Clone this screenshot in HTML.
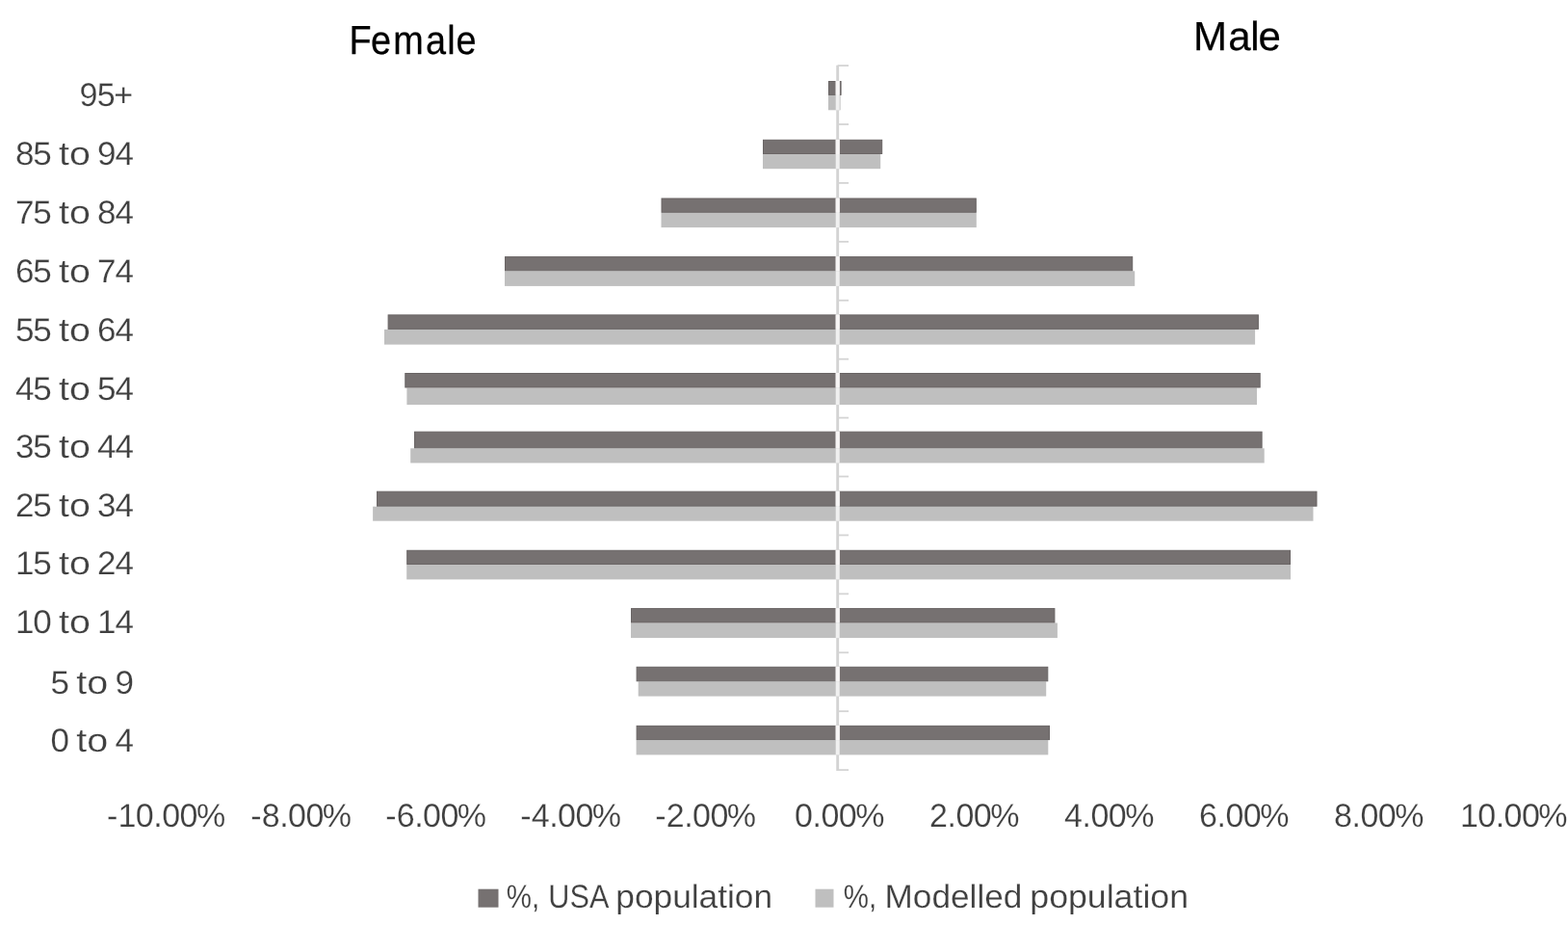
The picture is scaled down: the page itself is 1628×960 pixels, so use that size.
<!DOCTYPE html>
<html lang="en">
<head>
<meta charset="utf-8">
<title>Population pyramid: USA vs modelled population</title>
<style>
html,body{margin:0;padding:0;background:#fff;}
body{width:1628px;height:960px;overflow:hidden;}
svg{display:block;}
text{font-family:"Liberation Sans",sans-serif;text-rendering:geometricPrecision;}
.cat,.xl,.lg{font-size:34px;fill:#404040;stroke:#fff;stroke-width:0.20px;}
.ttl{font-size:42px;fill:#000;stroke:#000;stroke-width:0.25px;}
</style>
</head>
<body>
<svg width="1628" height="960" viewBox="0 0 1628 960">
<rect x="0" y="0" width="1628" height="960" fill="#ffffff"/>
<g>
<text class="ttl" x="402.68 427.86 453.66 491.20 515.94 526.14" y="0" transform="matrix(0.9000 0 0 1.0000 0 56.00)">Female</text>
<text class="ttl" x="1239.11 1275.30 1298.22 1306.46" y="0" transform="matrix(1.0000 0 0 1.0000 0 52.00)">Male</text>
</g>
<g>
<rect x="860.0" y="98.9" width="12.6" height="15.4" fill="#bfbfbf"/>
<rect x="860.5" y="84.5" width="12.6" height="13.9" fill="#767171" stroke="#6a6565" stroke-width="1"/>
<rect x="792.0" y="160.0" width="122.2" height="15.2" fill="#bfbfbf"/>
<rect x="792.5" y="145.3" width="123.2" height="14.2" fill="#767171" stroke="#6a6565" stroke-width="1"/>
<rect x="686.5" y="220.8" width="327.3" height="15.3" fill="#bfbfbf"/>
<rect x="687.0" y="206.0" width="326.3" height="14.3" fill="#767171" stroke="#6a6565" stroke-width="1"/>
<rect x="524.0" y="281.3" width="654.2" height="15.6" fill="#bfbfbf"/>
<rect x="524.5" y="266.6" width="651.2" height="14.2" fill="#767171" stroke="#6a6565" stroke-width="1"/>
<rect x="399.0" y="341.9" width="904.1" height="15.7" fill="#bfbfbf"/>
<rect x="403.1" y="326.9" width="903.3" height="14.5" fill="#767171" stroke="#6a6565" stroke-width="1"/>
<rect x="422.4" y="402.5" width="882.6" height="17.6" fill="#bfbfbf"/>
<rect x="420.8" y="387.5" width="887.4" height="14.5" fill="#767171" stroke="#6a6565" stroke-width="1"/>
<rect x="426.2" y="465.3" width="886.5" height="15.2" fill="#bfbfbf"/>
<rect x="430.5" y="448.2" width="879.6" height="16.6" fill="#767171" stroke="#6a6565" stroke-width="1"/>
<rect x="387.1" y="525.7" width="976.4" height="15.0" fill="#bfbfbf"/>
<rect x="391.5" y="510.2" width="975.5" height="15.0" fill="#767171" stroke="#6a6565" stroke-width="1"/>
<rect x="422.2" y="586.0" width="917.8" height="15.4" fill="#bfbfbf"/>
<rect x="422.7" y="571.3" width="916.8" height="14.2" fill="#767171" stroke="#6a6565" stroke-width="1"/>
<rect x="655.0" y="646.5" width="442.9" height="15.6" fill="#bfbfbf"/>
<rect x="655.5" y="631.6" width="439.4" height="14.4" fill="#767171" stroke="#6a6565" stroke-width="1"/>
<rect x="662.7" y="707.3" width="423.5" height="15.3" fill="#bfbfbf"/>
<rect x="661.1" y="692.3" width="426.7" height="14.5" fill="#767171" stroke="#6a6565" stroke-width="1"/>
<rect x="660.6" y="768.1" width="427.7" height="15.3" fill="#bfbfbf"/>
<rect x="661.1" y="753.4" width="428.4" height="14.2" fill="#767171" stroke="#6a6565" stroke-width="1"/>
</g>
<g>
<line x1="869.7" y1="67.7" x2="869.7" y2="800.1" stroke="#d3d3d3" stroke-width="2.9"/>
<line x1="869.7" y1="68.10" x2="881.1" y2="68.10" stroke="#d4d4d4" stroke-width="1.8"/>
<line x1="869.7" y1="129.02" x2="881.1" y2="129.02" stroke="#d4d4d4" stroke-width="1.8"/>
<line x1="869.7" y1="189.93" x2="881.1" y2="189.93" stroke="#d4d4d4" stroke-width="1.8"/>
<line x1="869.7" y1="250.85" x2="881.1" y2="250.85" stroke="#d4d4d4" stroke-width="1.8"/>
<line x1="869.7" y1="311.77" x2="881.1" y2="311.77" stroke="#d4d4d4" stroke-width="1.8"/>
<line x1="869.7" y1="372.68" x2="881.1" y2="372.68" stroke="#d4d4d4" stroke-width="1.8"/>
<line x1="869.7" y1="433.60" x2="881.1" y2="433.60" stroke="#d4d4d4" stroke-width="1.8"/>
<line x1="869.7" y1="494.52" x2="881.1" y2="494.52" stroke="#d4d4d4" stroke-width="1.8"/>
<line x1="869.7" y1="555.43" x2="881.1" y2="555.43" stroke="#d4d4d4" stroke-width="1.8"/>
<line x1="869.7" y1="616.35" x2="881.1" y2="616.35" stroke="#d4d4d4" stroke-width="1.8"/>
<line x1="869.7" y1="677.27" x2="881.1" y2="677.27" stroke="#d4d4d4" stroke-width="1.8"/>
<line x1="869.7" y1="738.18" x2="881.1" y2="738.18" stroke="#d4d4d4" stroke-width="1.8"/>
<line x1="869.7" y1="799.10" x2="881.1" y2="799.10" stroke="#d4d4d4" stroke-width="1.8"/>
<rect x="867.5" y="84.0" width="4.4" height="14.9" fill="#f7f5f5"/>
<rect x="867.7" y="98.9" width="4.0" height="15.4" fill="#f0f0f0"/>
<rect x="867.5" y="144.8" width="4.4" height="15.2" fill="#f7f5f5"/>
<rect x="867.7" y="160.0" width="4.0" height="15.2" fill="#f0f0f0"/>
<rect x="867.5" y="205.5" width="4.4" height="15.3" fill="#f7f5f5"/>
<rect x="867.7" y="220.8" width="4.0" height="15.3" fill="#f0f0f0"/>
<rect x="867.5" y="266.1" width="4.4" height="15.2" fill="#f7f5f5"/>
<rect x="867.7" y="281.3" width="4.0" height="15.6" fill="#f0f0f0"/>
<rect x="867.5" y="326.4" width="4.4" height="15.5" fill="#f7f5f5"/>
<rect x="867.7" y="341.9" width="4.0" height="15.7" fill="#f0f0f0"/>
<rect x="867.5" y="387.0" width="4.4" height="15.5" fill="#f7f5f5"/>
<rect x="867.7" y="402.5" width="4.0" height="17.6" fill="#f0f0f0"/>
<rect x="867.5" y="447.7" width="4.4" height="17.6" fill="#f7f5f5"/>
<rect x="867.7" y="465.3" width="4.0" height="15.2" fill="#f0f0f0"/>
<rect x="867.5" y="509.7" width="4.4" height="16.0" fill="#f7f5f5"/>
<rect x="867.7" y="525.7" width="4.0" height="15.0" fill="#f0f0f0"/>
<rect x="867.5" y="570.8" width="4.4" height="15.2" fill="#f7f5f5"/>
<rect x="867.7" y="586.0" width="4.0" height="15.4" fill="#f0f0f0"/>
<rect x="867.5" y="631.1" width="4.4" height="15.4" fill="#f7f5f5"/>
<rect x="867.7" y="646.5" width="4.0" height="15.6" fill="#f0f0f0"/>
<rect x="867.5" y="691.8" width="4.4" height="15.5" fill="#f7f5f5"/>
<rect x="867.7" y="707.3" width="4.0" height="15.3" fill="#f0f0f0"/>
<rect x="867.5" y="752.9" width="4.4" height="15.2" fill="#f7f5f5"/>
<rect x="867.7" y="768.1" width="4.0" height="15.3" fill="#f0f0f0"/>
</g>
<g>
<text class="cat" x="82.55 100.85 118.33" y="0" transform="matrix(1.0000 0 0 1.0000 0 110.00)">95+</text>
<text class="cat" transform="matrix(1.0300 0 0 1.0000 0 171.00)"><tspan x="15.50 33.26">85</tspan> <tspan x="59.18" textLength="31.95" lengthAdjust="spacingAndGlyphs">to</tspan> <tspan x="98.17 115.93">94</tspan></text>
<text class="cat" transform="matrix(1.0300 0 0 1.0000 0 232.00)"><tspan x="15.50 33.26">75</tspan> <tspan x="59.18" textLength="31.95" lengthAdjust="spacingAndGlyphs">to</tspan> <tspan x="98.17 115.93">84</tspan></text>
<text class="cat" transform="matrix(1.0300 0 0 1.0000 0 293.00)"><tspan x="15.50 33.26">65</tspan> <tspan x="59.18" textLength="31.95" lengthAdjust="spacingAndGlyphs">to</tspan> <tspan x="98.17 115.93">74</tspan></text>
<text class="cat" transform="matrix(1.0300 0 0 1.0000 0 354.00)"><tspan x="15.50 33.26">55</tspan> <tspan x="59.18" textLength="31.95" lengthAdjust="spacingAndGlyphs">to</tspan> <tspan x="98.17 115.93">64</tspan></text>
<text class="cat" transform="matrix(1.0300 0 0 1.0000 0 415.00)"><tspan x="15.50 33.26">45</tspan> <tspan x="59.18" textLength="31.95" lengthAdjust="spacingAndGlyphs">to</tspan> <tspan x="98.17 115.93">54</tspan></text>
<text class="cat" transform="matrix(1.0300 0 0 1.0000 0 475.00)"><tspan x="15.50 33.26">35</tspan> <tspan x="59.18" textLength="31.95" lengthAdjust="spacingAndGlyphs">to</tspan> <tspan x="98.17 115.93">44</tspan></text>
<text class="cat" transform="matrix(1.0300 0 0 1.0000 0 536.00)"><tspan x="15.50 33.26">25</tspan> <tspan x="59.18" textLength="31.95" lengthAdjust="spacingAndGlyphs">to</tspan> <tspan x="98.17 115.93">34</tspan></text>
<text class="cat" transform="matrix(1.0300 0 0 1.0000 0 596.00)"><tspan x="15.50 33.26">15</tspan> <tspan x="59.18" textLength="31.95" lengthAdjust="spacingAndGlyphs">to</tspan> <tspan x="98.17 115.93">24</tspan></text>
<text class="cat" transform="matrix(1.0300 0 0 1.0000 0 657.00)"><tspan x="15.50 33.26">10</tspan> <tspan x="59.18" textLength="31.95" lengthAdjust="spacingAndGlyphs">to</tspan> <tspan x="98.17 115.93">14</tspan></text>
<text class="cat" transform="matrix(1.0300 0 0 1.0000 0 720.00)"><tspan x="51.03">5</tspan> <tspan x="76.94" textLength="31.95" lengthAdjust="spacingAndGlyphs">to</tspan> <tspan x="115.93">9</tspan></text>
<text class="cat" transform="matrix(1.0300 0 0 1.0000 0 780.00)"><tspan x="51.03">0</tspan> <tspan x="76.94" textLength="31.95" lengthAdjust="spacingAndGlyphs">to</tspan> <tspan x="115.93">4</tspan></text>
</g>
<g>
<text class="xl" x="111.04 122.55 140.85 159.28 168.25 186.55 203.98" y="0" transform="matrix(1.0000 0 0 1.0000 0 858.00)">-10.00%</text>
<text class="xl" x="260.19 271.70 290.13 299.10 317.40 334.83" y="0" transform="matrix(1.0000 0 0 1.0000 0 858.00)">-8.00%</text>
<text class="xl" x="400.19 411.70 430.13 439.10 457.40 474.83" y="0" transform="matrix(1.0000 0 0 1.0000 0 858.00)">-6.00%</text>
<text class="xl" x="540.19 551.70 570.13 579.10 597.40 614.83" y="0" transform="matrix(1.0000 0 0 1.0000 0 858.00)">-4.00%</text>
<text class="xl" x="680.19 691.70 710.13 719.10 737.40 754.83" y="0" transform="matrix(1.0000 0 0 1.0000 0 858.00)">-2.00%</text>
<text class="xl" x="825.05 843.48 852.45 870.75 888.18" y="0" transform="matrix(1.0000 0 0 1.0000 0 858.00)">0.00%</text>
<text class="xl" x="965.05 983.48 992.45 1010.75 1028.18" y="0" transform="matrix(1.0000 0 0 1.0000 0 858.00)">2.00%</text>
<text class="xl" x="1105.05 1123.48 1132.45 1150.75 1168.18" y="0" transform="matrix(1.0000 0 0 1.0000 0 858.00)">4.00%</text>
<text class="xl" x="1245.05 1263.48 1272.45 1290.75 1308.18" y="0" transform="matrix(1.0000 0 0 1.0000 0 858.00)">6.00%</text>
<text class="xl" x="1385.05 1403.48 1412.45 1430.75 1448.18" y="0" transform="matrix(1.0000 0 0 1.0000 0 858.00)">8.00%</text>
<text class="xl" x="1515.90 1534.20 1552.63 1561.60 1579.90 1597.33" y="0" transform="matrix(1.0000 0 0 1.0000 0 858.00)">10.00%</text>
</g>
<g>
<rect x="496.5" y="922.7" width="21" height="19" fill="#767171"/>
<text class="lg" transform="matrix(1 0 0 1.0000 0 942.00)"><tspan x="525.75" textLength="34.40" lengthAdjust="spacingAndGlyphs">%,</tspan> <tspan x="569.30" textLength="61.36" lengthAdjust="spacingAndGlyphs">USA</tspan> <tspan x="639.33" textLength="162.76" lengthAdjust="spacingAndGlyphs">population</tspan></text>
<rect x="846.5" y="922.7" width="19" height="19" fill="#bfbfbf"/>
<text class="lg" transform="matrix(1 0 0 1.0000 0 942.00)"><tspan x="875.75" textLength="34.40" lengthAdjust="spacingAndGlyphs">%,</tspan> <tspan x="918.51" textLength="142.96" lengthAdjust="spacingAndGlyphs">Modelled</tspan> <tspan x="1069.30" textLength="164.72" lengthAdjust="spacingAndGlyphs">population</tspan></text>
</g>
</svg>
</body>
</html>
